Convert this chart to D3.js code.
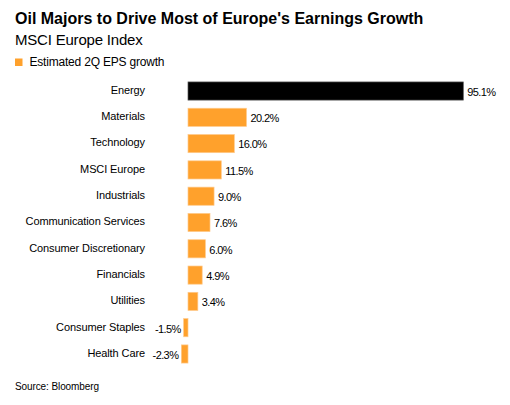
<!DOCTYPE html>
<html><head><meta charset="utf-8">
<script src="https://cdn.jsdelivr.net/npm/d3@7"></script>
<style>
body{margin:0;background:#fff;}
svg{display:block;font-family:"Liberation Sans",Arial,sans-serif;}
</style></head><body>
<svg id="c" width="510" height="405"></svg>
<script>
const categories = ["Energy","Materials","Technology","MSCI Europe","Industrials","Communication Services","Consumer Discretionary","Financials","Utilities","Consumer Staples","Health Care"];
const values = [95.1,20.2,16.0,11.5,9.0,7.6,6.0,4.9,3.4,-1.5,-2.3];
const valueLabels = ["95.1%","20.2%","16.0%","11.5%","9.0%","7.6%","6.0%","4.9%","3.4%","-1.5%","-2.3%"];
const highlight = ["Energy"];
const title = "Oil Majors to Drive Most of Europe's Earnings Growth";
const subtitle = "MSCI Europe Index";
const legendLabel = "Estimated 2Q EPS growth";
const source = "Source: Bloomberg";

const svg = d3.select("#c");
const orange = "#ffa12c";

svg.append("text").attr("x",15).attr("y",24).attr("font-size",16).attr("font-weight","bold").attr("letter-spacing",0).attr("fill","#000").text(title);
svg.append("text").attr("x",15).attr("y",44.5).attr("font-size",15).attr("letter-spacing",-0.2).attr("fill","#000").text(subtitle);
svg.append("rect").attr("x",15).attr("y",58.5).attr("width",7.5).attr("height",7.5).attr("fill",orange);
svg.append("text").attr("x",29.5).attr("y",66).attr("font-size",12).attr("letter-spacing",-0.2).attr("fill","#000").text(legendLabel);

const x = d3.scaleLinear().domain([0,95.1]).range([188,463.3]);
const y = d3.scaleBand().domain(categories).range([78,367]).paddingInner(0.31).paddingOuter(0.15);

const g = svg.append("g");
const data = categories.map((c,i)=>({c,v:values[i],l:valueLabels[i]}));

g.selectAll("rect.bar").data(data).join("rect").attr("class","bar")
  .attr("x",d=>x(Math.min(0,d.v)))
  .attr("width",d=>Math.abs(x(d.v)-x(0)))
  .attr("y",d=>y(d.c)).attr("height",y.bandwidth())
  .attr("fill",d=>highlight.includes(d.c)?"#000":orange)
  .attr("stroke",d=>highlight.includes(d.c)?"#555":"#ffc98a").attr("stroke-width",0.7);

g.selectAll("text.cat").data(data).join("text").attr("class","cat")
  .attr("x",145).attr("y",d=>y(d.c)+y.bandwidth()/2-1).attr("dy","0.35em")
  .attr("text-anchor","end").attr("font-size",11).attr("letter-spacing",-0.1).attr("fill","#000").text(d=>d.c);

g.selectAll("text.val").data(data).join("text").attr("class","val")
  .attr("x",d=>d.v>=0?x(d.v)+4:x(d.v)-3)
  .attr("y",d=>y(d.c)+y.bandwidth()/2+1).attr("dy","0.35em")
  .attr("text-anchor",d=>d.v>=0?"start":"end").attr("font-size",11).attr("letter-spacing",-0.6).attr("fill","#000").text(d=>d.l);

svg.append("text").attr("x",15).attr("y",390).attr("font-size",10).attr("letter-spacing",-0.1).attr("fill","#000").text(source);
</script>
</body></html>
